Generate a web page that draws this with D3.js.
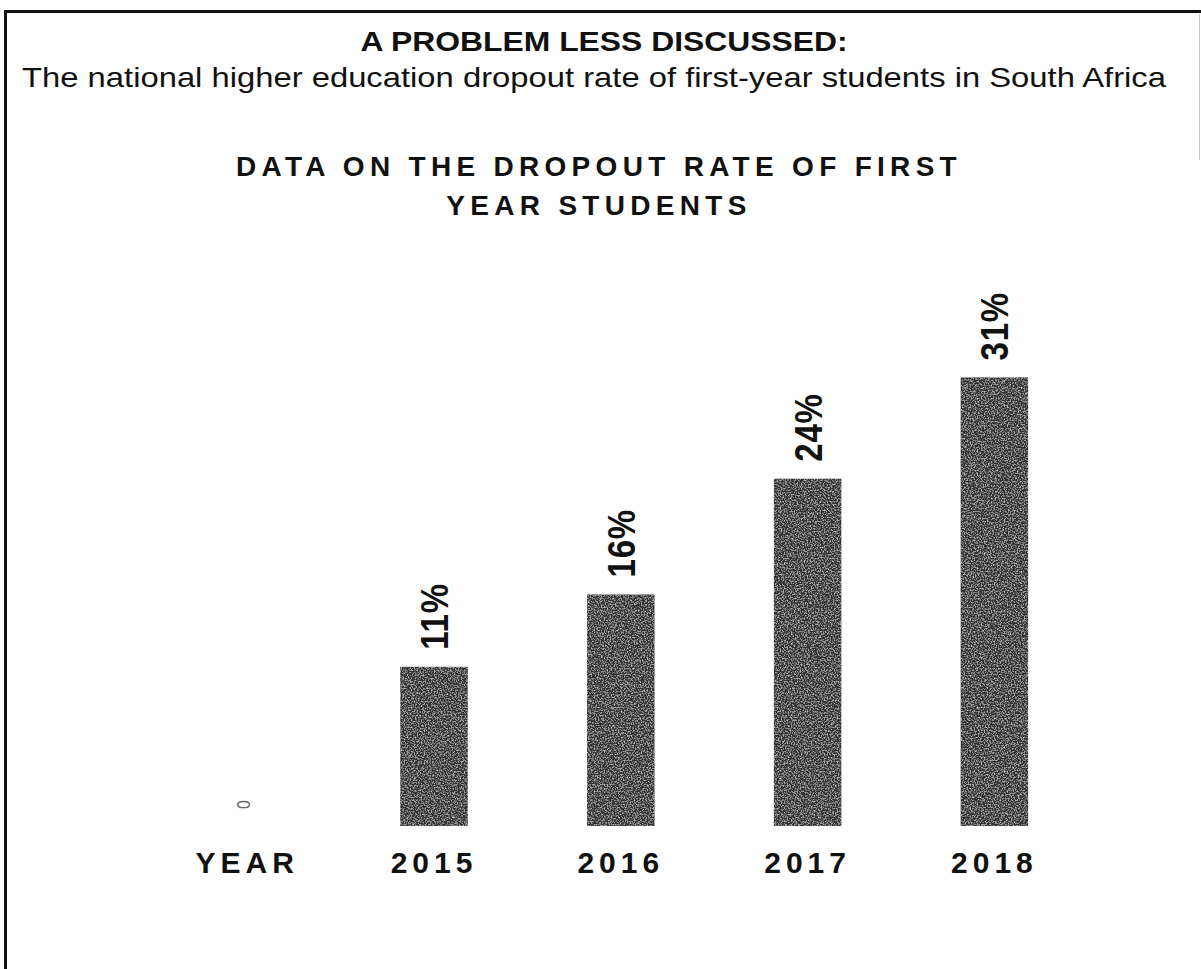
<!DOCTYPE html>
<html>
<head>
<meta charset="utf-8">
<script src="https://cdn.jsdelivr.net/npm/d3@7"></script>
<style>
  html, body { margin: 0; padding: 0; background: #fff; }
  svg { display: block; }
  text { font-family: "Liberation Sans", Arial, sans-serif; fill: #111; }
</style>
</head>
<body>
<svg id="chart" width="1201" height="969"></svg>
<script>
// ---- data ----
const categories = ["YEAR", "2015", "2016", "2017", "2018"];
const values = [0, 11, 16, 24, 31];
const valueLabels = ["0", "11%", "16%", "24%", "31%"];
const headline = "A PROBLEM LESS DISCUSSED:";
const subtitle = "The national higher education dropout rate of first-year students in South Africa";
const chartTitleLines = ["DATA ON THE DROPOUT RATE OF FIRST", "YEAR STUDENTS"];

const W = 1201, H = 969;
const svg = d3.select("#chart");

// grain filter for scanned-looking bars
const defs = svg.append("defs");
const f = defs.append("filter").attr("id", "grain")
  .attr("x", 0).attr("y", 0).attr("width", "100%").attr("height", "100%");
f.append("feTurbulence").attr("type", "fractalNoise").attr("baseFrequency", 0.7)
  .attr("numOctaves", 2).attr("seed", 7).attr("result", "noise");
f.append("feColorMatrix").attr("in", "noise").attr("type", "matrix")
  .attr("values", "0 0 0 0 0.62  0 0 0 0 0.62  0 0 0 0 0.62  2.4 0 0 0 -1.1")
  .attr("result", "speck");
f.append("feComposite").attr("in", "speck").attr("in2", "SourceGraphic")
  .attr("operator", "in").attr("result", "clip");
const fm = f.append("feMerge");
fm.append("feMergeNode").attr("in", "SourceGraphic");
fm.append("feMergeNode").attr("in", "clip");

// background
svg.append("rect").attr("width", W).attr("height", H).attr("fill", "#fefefe");

// frame (top and left edges, as in the scan)
svg.append("line").attr("x1", 4).attr("x2", W).attr("y1", 11.5).attr("y2", 11.5)
  .attr("stroke", "#111").attr("stroke-width", 3);
svg.append("line").attr("x1", 5.5).attr("x2", 5.5).attr("y1", 10).attr("y2", H)
  .attr("stroke", "#111").attr("stroke-width", 3);
svg.append("line").attr("x1", 1199.5).attr("x2", 1199.5).attr("y1", 14).attr("y2", 160)
  .attr("stroke", "#c8c8c8").attr("stroke-width", 1);

// headings (the scan is slightly widened horizontally)
svg.append("text").attr("transform", "translate(604,51) scale(1.18,1)")
  .attr("text-anchor", "middle").attr("font-weight", "bold")
  .attr("font-size", 27).text(headline);
svg.append("text").attr("transform", "translate(594,87) scale(1.171,1)")
  .attr("text-anchor", "middle")
  .attr("font-size", 28).text(subtitle);
svg.selectAll("text.ctitle").data(chartTitleLines).join("text")
  .attr("class", "ctitle")
  .attr("x", 599).attr("y", (d, i) => 176 + i * 39)
  .attr("text-anchor", "middle").attr("font-weight", "bold")
  .attr("font-size", 28).attr("letter-spacing", 5.3).text(d => d);

// scales
const step = 186.8, x0 = 153.8;
const x = d3.scaleBand().domain(categories)
  .range([x0, x0 + step * categories.length])
  .paddingInner(0.639).paddingOuter(0.3195);
const y = d3.scaleLinear().domain([0, 35]).range([826, 826 - 35 * 14.47]);

const rows = categories.map((c, i) => ({ c, v: values[i], lab: valueLabels[i] }));

// bars
svg.append("g").selectAll("rect").data(rows.filter(d => d.v > 0)).join("rect")
  .attr("x", d => x(d.c))
  .attr("y", d => y(d.v))
  .attr("width", x.bandwidth())
  .attr("height", d => y(0) - y(d.v))
  .attr("fill", "#303030")
  .attr("filter", "url(#grain)");

// value labels (rotated)
svg.append("g").selectAll("text").data(rows).join("text")
  .attr("transform", d => `translate(${x(d.c) + x.bandwidth() / 2 - (d.v > 0 ? 0 : 4)},${y(d.v) - 17}) rotate(-90) scale(1,1.17)`)
  .attr("dy", "0.36em")
  .attr("text-anchor", "start")
  .attr("font-weight", d => d.v > 0 ? "bold" : "normal")
  .attr("font-size", d => d.v > 0 ? 33 : 16)
  .attr("letter-spacing", d => d.v > 0 ? 0.8 : 0)
  .style("fill", d => d.v > 0 ? "#111" : "#666")
  .text(d => d.lab);

// category axis labels
const axis = d3.axisBottom(x).tickSize(0).tickPadding(0);
const gx = svg.append("g").attr("transform", "translate(0,873)").call(axis);
gx.select(".domain").remove();
gx.selectAll("text")
  .attr("y", 0).attr("dy", 0)
  .attr("font-family", "Liberation Sans, Arial, sans-serif")
  .attr("font-weight", "bold").attr("font-size", 30)
  .attr("letter-spacing", 5).style("fill", "#111");
</script>
</body>
</html>
